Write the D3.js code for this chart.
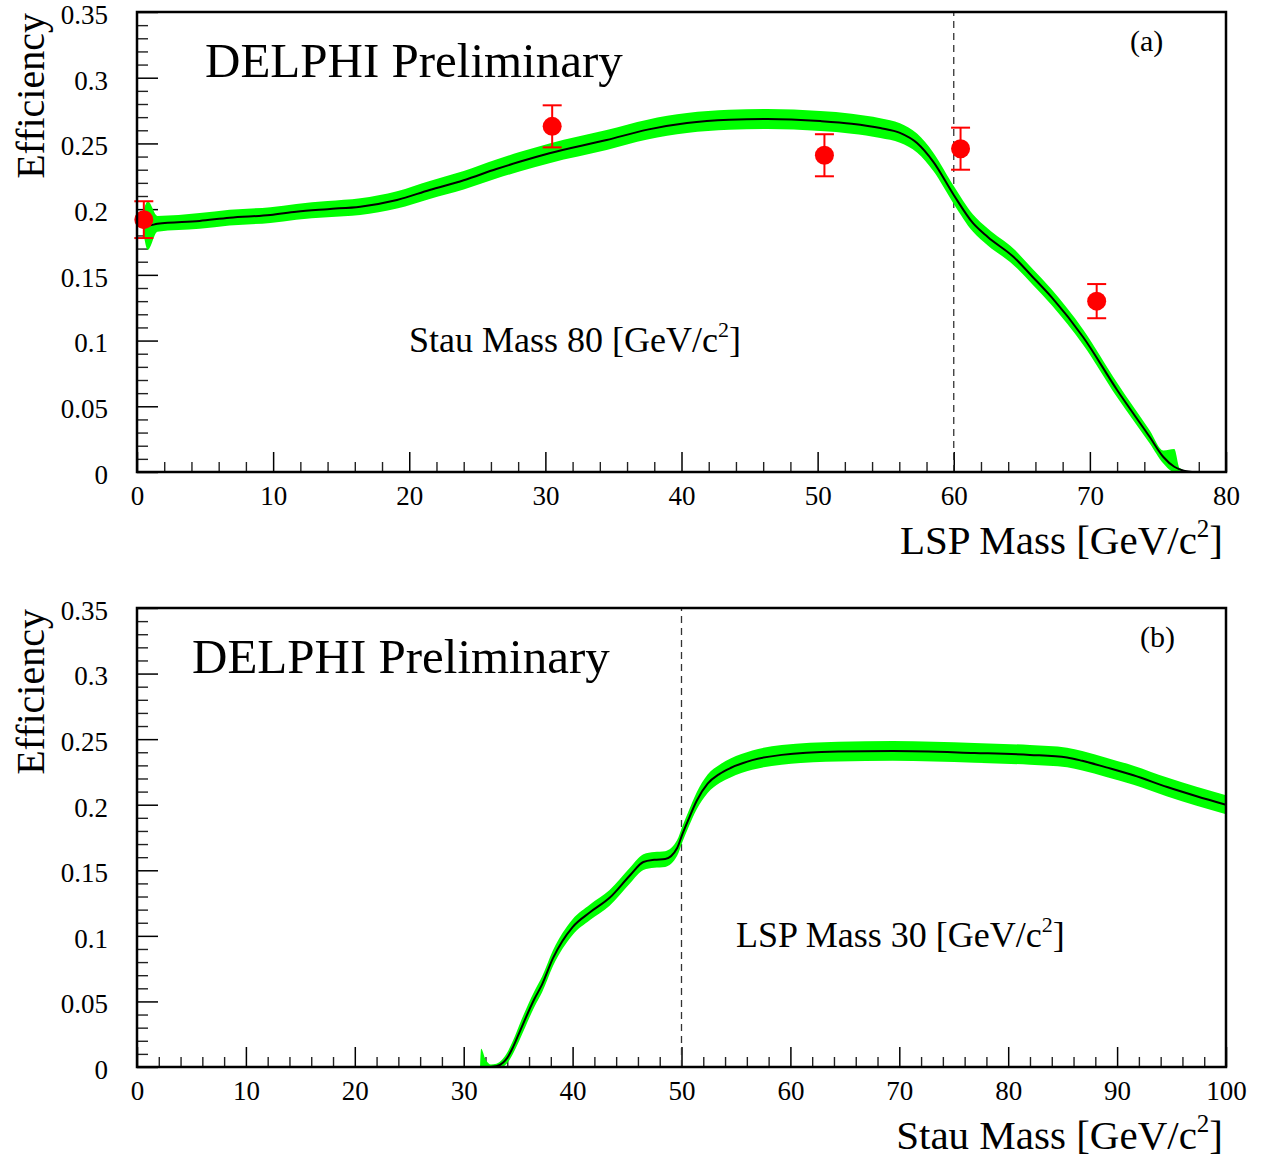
<!DOCTYPE html>
<html><head><meta charset="utf-8">
<script src="https://cdn.jsdelivr.net/npm/d3@7"></script>
<style>
body{margin:0;background:#fff;}
svg text{font-family:"Liberation Serif","Times New Roman",serif;fill:#000;}
</style></head>
<body><svg id="c" width="1262" height="1159"></svg>
<script>
// ---- Panel (a): efficiency vs LSP mass, stau mass 80 ----
const lspMassA = [0.5,0.8,1.5,4.6,6.8,9.8,11.7,14,16.4,19.1,21.5,24,26.4,28.1,30.3,34.5,37.5,40.4,43.5,46.3,50.2,52.5,54.6,56.05,57.3,58.5,60,61.4,62.5,64.4,65.8,67.2,69.5,72.0,74.4,75.4,76.2,76.6,77.5];
const effA     = [0.190,0.1875,0.1888,0.191,0.1935,0.1955,0.198,0.200,0.2019,0.207,0.2146,0.222,0.2305,0.236,0.2425,0.2526,0.2605,0.2655,0.268,0.2686,0.267,0.265,0.2617,0.258,0.2503,0.236,0.2108,0.1895,0.1788,0.1636,0.1484,0.1328,0.1027,0.0624,0.0266,0.0114,0.004,0.002,0.0];
const bandA    = [0.010,0.0185,0.006,0.006,0.006,0.006,0.006,0.0062,0.0064,0.0066,0.0068,0.007,0.0072,0.0074,0.0075,0.0076,0.0076,0.0076,0.0076,0.0076,0.0076,0.0076,0.0075,0.0074,0.0072,0.007,0.0068,0.0066,0.0064,0.0062,0.006,0.006,0.0058,0.0055,0.005,0.005,0.0135,0.001,0.0];
const dataMassA = [0.5,30.5,50.5,60.5,70.5];
const dataEffA  = [0.192,0.263,0.241,0.246,0.130];
const dataErrA  = [0.014,0.016,0.016,0.016,0.013];

// ---- Panel (b): efficiency vs stau mass, LSP mass 30 ----
const stauMassB = [31.5,31.6,32.0,32.5,33.0,33.6,34.0,34.55,35.2,36.5,37.2,38.2,40.0,41.6,43.4,45.3,46.5,47.5,48.5,49.6,50.1,50.6,51.4,52.4,53.5,54.5,56.5,59.2,64.4,69.4,76.9,82.0,85.4,86.8,89.0,91.5,94.6,97.3,100];
const effB      = [0.0,0.0,0.0,0.0,0.0005,0.0033,0.007,0.0155,0.028,0.052,0.063,0.083,0.1067,0.118,0.129,0.1464,0.1563,0.158,0.1586,0.167,0.178,0.188,0.203,0.216,0.2235,0.228,0.234,0.238,0.2405,0.241,0.2395,0.238,0.236,0.2335,0.2285,0.2225,0.2135,0.2065,0.200];
const bandB     = [0.0,0.014,0.006,0.002,0.002,0.003,0.004,0.005,0.006,0.006,0.006,0.006,0.006,0.006,0.006,0.006,0.006,0.006,0.006,0.006,0.006,0.006,0.0065,0.007,0.007,0.0072,0.0074,0.0075,0.0075,0.0075,0.0075,0.0075,0.0075,0.0075,0.0074,0.0073,0.0072,0.0072,0.0072];

const yTickVals   = [0,0.05,0.1,0.15,0.2,0.25,0.3,0.35];
const yTickLabels = ["0","0.05","0.1","0.15","0.2","0.25","0.3","0.35"];
const xTicksA = [0,10,20,30,40,50,60,70,80];
const xTicksB = [0,10,20,30,40,50,60,70,80,90,100];

const svg = d3.select("#c");
const FONT = "Liberation Serif";

function panel(o){
  const x = d3.scaleLinear().domain(o.xdom).range([137,1226]);
  const y = d3.scaleLinear().domain([0,0.35]).range([o.y0,o.y1]);
  const g = svg.append("g");

  const cid = "clip"+o.id;
  svg.append("clipPath").attr("id",cid).append("rect")
    .attr("x",137).attr("y",o.y1).attr("width",1226-137).attr("height",o.y0-o.y1);

  // minor ticks
  const minorY = d3.range(0,0.3501,0.01).filter(v=>Math.abs(v/0.05-Math.round(v/0.05))>1e-6);
  g.append("g").attr("transform","translate(137,0)")
    .call(d3.axisLeft(y).tickValues(minorY).tickSize(-11).tickFormat(""))
    .call(s=>{s.select(".domain").remove();s.selectAll("line").attr("stroke","#222").attr("stroke-width",1.4);});
  const minorX = d3.range(o.xdom[0],o.xdom[1]+0.01,2).filter(v=>v%10!==0);
  g.append("g").attr("transform",`translate(0,${o.y0})`)
    .call(d3.axisBottom(x).tickValues(minorX).tickSize(-10).tickFormat(""))
    .call(s=>{s.select(".domain").remove();s.selectAll("line").attr("stroke","#222").attr("stroke-width",1.4);});
  // major ticks
  g.append("g").attr("transform","translate(137,0)")
    .call(d3.axisLeft(y).tickValues(yTickVals).tickSize(-21).tickPadding(29)
      .tickFormat((d,i)=>yTickLabels[i]))
    .call(s=>{s.select(".domain").remove();s.selectAll("line").attr("stroke","#000").attr("stroke-width",1.5);
      s.selectAll("text").attr("font-family",FONT).attr("font-size",27).attr("fill","#000").attr("dy","0.42em");});
  g.append("g").attr("transform",`translate(0,${o.y0})`)
    .call(d3.axisBottom(x).tickValues(o.xticks).tickSize(-20).tickPadding(14).tickFormat(d3.format("d")))
    .call(s=>{s.select(".domain").remove();s.selectAll("line").attr("stroke","#000").attr("stroke-width",1.5);
      s.selectAll("text").attr("font-family",FONT).attr("font-size",27).attr("fill","#000");});

  // dashed line
  g.append("line").attr("x1",x(o.dash)).attr("x2",x(o.dash)).attr("y1",y(0)).attr("y2",y(0.35))
    .attr("stroke","#333").attr("stroke-width",1.3).attr("stroke-dasharray","7,5");

  // band + curve
  const pts = o.mass.map((m,i)=>({m,c:o.eff[i],e:o.band[i]}));
  const area = d3.area().curve(d3.curveMonotoneX)
    .x(d=>x(d.m)).y0(d=>y(Math.max(0,d.c-d.e))).y1(d=>y(d.c+d.e));
  const cg = g.append("g").attr("clip-path",`url(#${cid})`);
  cg.append("path").datum(pts).attr("d",area).attr("fill","#00ff00").attr("stroke","none");
  const line = d3.line().curve(d3.curveMonotoneX).x(d=>x(d.m)).y(d=>y(d.c));
  cg.append("path").datum(pts.filter(d=>!(o.lineStart!==undefined && d.m<o.lineStart)))
    .attr("d",line).attr("fill","none").attr("stroke","#000").attr("stroke-width",2);

  // data points
  if(o.dm){
    const dp = g.append("g");
    o.dm.forEach((m,i)=>{
      const cx=x(m), lo=y(o.de[i]-o.derr[i]), hi=y(o.de[i]+o.derr[i]);
      dp.append("line").attr("x1",cx).attr("x2",cx).attr("y1",lo).attr("y2",hi).attr("stroke","#ff0000").attr("stroke-width",2);
      [lo,hi].forEach(yy=>dp.append("line").attr("x1",cx-9.5).attr("x2",cx+9.5).attr("y1",yy).attr("y2",yy).attr("stroke","#ff0000").attr("stroke-width",2));
      dp.append("circle").attr("cx",cx).attr("cy",y(o.de[i])).attr("r",9.5).attr("fill","#ff0000");
    });
  }

  // frame
  g.append("rect").attr("x",137).attr("y",o.y1).attr("width",1226-137).attr("height",o.y0-o.y1)
    .attr("fill","none").attr("stroke","#000").attr("stroke-width",2.5);

  // texts
  g.append("text").attr("x",o.delX).attr("y",o.y1+65).attr("font-size",49).text("DELPHI Preliminary");
  g.append("text").attr("x",o.labX).attr("y",o.y1+39).attr("font-size",30).text(o.tag);
  const t = g.append("text").attr("x",o.infoX).attr("y",o.infoY).attr("font-size",36);
  t.append("tspan").text(o.info+" [GeV/c");
  t.append("tspan").attr("font-size",22).attr("dy",-15).text("2");
  t.append("tspan").attr("dy",15).text("]");
  const tt = g.append("text").attr("x",1223).attr("y",o.y0+82).attr("text-anchor","end").attr("font-size",41);
  tt.append("tspan").text(o.xtitle+" [GeV/c");
  tt.append("tspan").attr("font-size",25).attr("dy",-17).text("2");
  tt.append("tspan").attr("dy",17).text("]");
  g.append("text").attr("transform",`translate(44,${o.y1+1}) rotate(-90)`).attr("text-anchor","end")
    .attr("font-size",40).text("Efficiency");
}

panel({id:"a",tag:"(a)",xdom:[0,80],y0:472,y1:12,xticks:xTicksA,dash:60,
  mass:lspMassA,eff:effA,band:bandA,dm:dataMassA,de:dataEffA,derr:dataErrA,
  delX:205,labX:1130,infoX:409,infoY:352,info:"Stau Mass 80",xtitle:"LSP Mass"});
panel({id:"b",tag:"(b)",xdom:[0,100],y0:1067,y1:608,xticks:xTicksB,dash:50,
  mass:stauMassB,eff:effB,band:bandB,lineStart:32.5,
  delX:192,labX:1140,infoX:736,infoY:947,info:"LSP Mass 30",xtitle:"Stau Mass"});
</script></body></html>
